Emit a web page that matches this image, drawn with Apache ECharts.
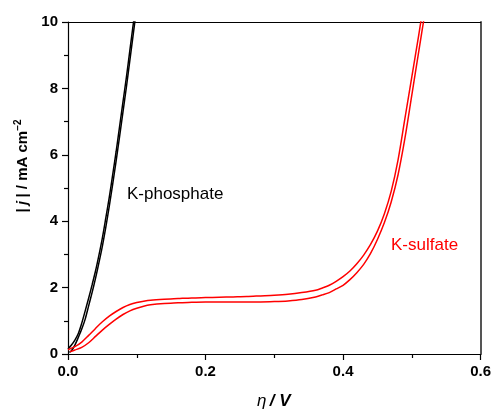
<!DOCTYPE html>
<html>
<head>
<meta charset="utf-8">
<title>Polarization curves</title>
<script src="https://cdn.jsdelivr.net/npm/echarts@6/dist/echarts.min.js"></script>
<style>
  html, body { margin: 0; padding: 0; background: #fff; }
  #chart { width: 494px; height: 410px; }
</style>
</head>
<body>
<div id="chart"></div>
<script>
// Overpotential (V) and current density magnitude (mA cm^-2), two scans per electrolyte
const phosEtaA = [0, 0.005, 0.01, 0.015, 0.02, 0.025, 0.03, 0.035, 0.04, 0.045, 0.05, 0.055, 0.06, 0.065, 0.07, 0.075, 0.08, 0.085, 0.09, 0.095, 0.1];
const phosJA   = [0.15, 0.27, 0.42, 0.62, 0.93, 1.3, 1.68, 2.08, 2.5, 2.98, 3.5, 4.1, 4.72, 5.4, 6.1, 6.85, 7.6, 8.35, 9.15, 9.95, 10.7];
const phosEtaB = [0.002, 0.005, 0.01, 0.015, 0.02, 0.025, 0.03, 0.035, 0.04, 0.045, 0.05, 0.055, 0.06, 0.065, 0.07, 0.075, 0.08, 0.085, 0.09, 0.095, 0.1];
const phosJB   = [0.05, 0.1, 0.27, 0.5, 0.75, 1.05, 1.45, 1.85, 2.28, 2.75, 3.25, 3.82, 4.45, 5.12, 5.82, 6.55, 7.3, 8.05, 8.85, 9.65, 10.45];

const sulfEtaA = [0, 0.01, 0.02, 0.03, 0.04, 0.05, 0.06, 0.07, 0.08, 0.09, 0.1, 0.11, 0.12, 0.14, 0.16, 0.18, 0.2, 0.22, 0.24, 0.26, 0.28, 0.3, 0.32, 0.34, 0.36, 0.37, 0.38, 0.39, 0.4, 0.41, 0.42, 0.43, 0.44, 0.45, 0.46, 0.47, 0.48, 0.49, 0.5, 0.51, 0.515];
const sulfJA   = [0.13, 0.22, 0.36, 0.56, 0.77, 0.97, 1.14, 1.28, 1.4, 1.49, 1.55, 1.59, 1.62, 1.65, 1.67, 1.69, 1.7, 1.71, 1.72, 1.73, 1.75, 1.77, 1.8, 1.85, 1.92, 1.99, 2.07, 2.19, 2.33, 2.5, 2.72, 2.98, 3.3, 3.7, 4.22, 4.9, 5.85, 7.1, 8.35, 9.6, 10.25];
const sulfEtaB = [0.003, 0.01, 0.02, 0.03, 0.04, 0.05, 0.06, 0.07, 0.08, 0.09, 0.1, 0.11, 0.12, 0.14, 0.16, 0.18, 0.2, 0.22, 0.24, 0.26, 0.28, 0.3, 0.32, 0.34, 0.36, 0.37, 0.38, 0.39, 0.4, 0.41, 0.42, 0.43, 0.44, 0.45, 0.46, 0.47, 0.48, 0.49, 0.5, 0.51, 0.52];
const sulfJB   = [0.07, 0.12, 0.2, 0.34, 0.53, 0.72, 0.89, 1.05, 1.19, 1.3, 1.38, 1.44, 1.48, 1.52, 1.54, 1.56, 1.57, 1.57, 1.57, 1.57, 1.57, 1.58, 1.6, 1.64, 1.72, 1.78, 1.85, 1.96, 2.07, 2.24, 2.45, 2.7, 3.03, 3.45, 3.95, 4.58, 5.4, 6.5, 7.8, 9.1, 10.4];

const xTicks = { min: 0, max: 0.6, step: 0.2 };
const yTicks = { min: 0, max: 10, step: 2 };

const FONT = "'Liberation Sans', Arial, sans-serif";

function pairs(xs, ys) {
  return xs.map((x, i) => [x, ys[i]]);
}

function curve(name, xs, ys, color) {
  return {
    name: name,
    type: 'line',
    xAxisIndex: 0,
    yAxisIndex: 0,
    data: pairs(xs, ys),
    showSymbol: false,
    symbol: 'none',
    smooth: 0.3,
    clip: true,
    lineStyle: { color: color, width: 1.5 },
    silent: true
  };
}

const chart = echarts.init(document.getElementById('chart'), null, { renderer: 'canvas' });

const plainAxis = (pos, color, width) => ({
  type: 'value',
  position: pos,
  axisLine: { show: true, onZero: false, lineStyle: { color: color, width: width } },
  axisTick: { show: false },
  axisLabel: { show: false },
  splitLine: { show: false }
});

chart.setOption({
  animation: false,
  backgroundColor: '#fff',
  grid: { left: 68, right: 13, top: 22, bottom: 56, containLabel: false },
  xAxis: [
    {
      type: 'value',
      position: 'bottom',
      min: xTicks.min, max: xTicks.max, interval: xTicks.step,
      axisLine: { show: true, onZero: false, lineStyle: { color: '#000', width: 1.2 } },
      axisTick: { show: true, inside: false, length: 6, lineStyle: { color: '#000', width: 1.2 } },
      minorTick: { show: true, splitNumber: 2, length: 4, lineStyle: { color: '#000', width: 1.2 } },
      splitLine: { show: false },
      axisLabel: {
        color: '#000', fontFamily: FONT, fontSize: 15, fontWeight: 'bold', margin: 10,
        formatter: v => v.toFixed(1)
      }
    },
    Object.assign(plainAxis('top', '#000', 1.2), { min: xTicks.min, max: xTicks.max })
  ],
  yAxis: [
    {
      type: 'value',
      position: 'left',
      min: yTicks.min, max: yTicks.max, interval: yTicks.step,
      axisLine: { show: true, onZero: false, lineStyle: { color: '#000', width: 1.2 } },
      axisTick: { show: true, inside: false, length: 6, lineStyle: { color: '#000', width: 1.2 } },
      minorTick: { show: true, splitNumber: 2, length: 4, lineStyle: { color: '#000', width: 1.2 } },
      splitLine: { show: false },
      axisLabel: { color: '#000', fontFamily: FONT, fontSize: 15, fontWeight: 'bold', margin: 10 }
    },
    Object.assign(plainAxis('right', '#555', 2), { min: yTicks.min, max: yTicks.max })
  ],
  series: [
    curve('K-phosphate A', phosEtaA, phosJA, '#000'),
    curve('K-phosphate B', phosEtaB, phosJB, '#000'),
    curve('K-sulfate A', sulfEtaA, sulfJA, '#ff0000'),
    curve('K-sulfate B', sulfEtaB, sulfJB, '#ff0000')
  ],
  graphic: [
    {
      type: 'text', left: 127, top: 186,
      style: { text: 'K-phosphate', fill: '#000', font: '17px ' + FONT }
    },
    {
      type: 'text', left: 391, top: 237,
      style: { text: 'K-sulfate', fill: '#ff0000', font: '17px ' + FONT }
    },
    {
      type: 'text',
      x: 23, y: 166,
      rotation: Math.PI / 2,
      style: {
        text: '{b||} {i|j} {b|| / mA cm}{s|\u22122}',
        align: 'center',
        verticalAlign: 'middle',
        fill: '#000',
        rich: {
          b: { fontFamily: FONT, fontSize: 15, fontWeight: 'bold', fill: '#000', lineHeight: 19 },
          i: { fontFamily: FONT, fontSize: 15, fontWeight: 'bold', fontStyle: 'italic', fill: '#000', lineHeight: 19 },
          s: { fontFamily: FONT, fontSize: 10, fontWeight: 'bold', fill: '#000', verticalAlign: 'top', lineHeight: 19 }
        }
      }
    },
    {
      type: 'text',
      x: 257, y: 401,
      style: {
        text: '{e|\u03b7} {b|/ V}',
        align: 'left',
        verticalAlign: 'middle',
        rich: {
          e: { fontFamily: FONT, fontSize: 17, fontStyle: 'italic', fill: '#000' },
          b: { fontFamily: FONT, fontSize: 17, fontWeight: 'bold', fontStyle: 'italic', fill: '#000' }
        }
      }
    }
  ]
});
</script>
</body>
</html>
